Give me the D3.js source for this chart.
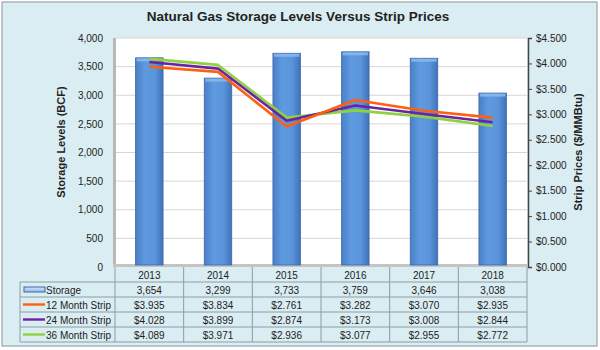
<!DOCTYPE html>
<html>
<head>
<meta charset="utf-8">
<script src="https://d3js.org/d3.v7.min.js"></script>
<style>
  body { margin: 0; background: #fff; }
  text { font-family: "Liberation Sans", Arial, sans-serif; fill: #222; }
</style>
</head>
<body>
<div id="chart"></div>
<script>
// data
var years = ["2013", "2014", "2015", "2016", "2017", "2018"];
var storage = [3654, 3299, 3733, 3759, 3646, 3038];
var strip12 = [3.935, 3.834, 2.761, 3.282, 3.070, 2.935];
var strip24 = [4.028, 3.899, 2.874, 3.173, 3.008, 2.844];
var strip36 = [4.089, 3.971, 2.936, 3.077, 2.955, 2.772];
var seriesNames = ["Storage", "12 Month Strip", "24 Month Strip", "36 Month Strip"];
var leftTicks = [0, 500, 1000, 1500, 2000, 2500, 3000, 3500, 4000];
var rightTicks = [0, 0.5, 1, 1.5, 2, 2.5, 3, 3.5, 4, 4.5];

var W = 600, H = 350;
var plot = { left: 115, right: 527, top: 38, bottom: 267 };
var rowH = 15;

var svg = d3.select("#chart").append("svg")
    .attr("width", W).attr("height", H);

var defs = svg.append("defs");
var g1 = defs.append("linearGradient").attr("id", "barGrad")
    .attr("x1", "0").attr("x2", "1").attr("y1", "0").attr("y2", "0");
g1.append("stop").attr("offset", "0").attr("stop-color", "#4a80c8");
g1.append("stop").attr("offset", "0.35").attr("stop-color", "#5f9ae0");
g1.append("stop").attr("offset", "0.7").attr("stop-color", "#5a95dc");
g1.append("stop").attr("offset", "1").attr("stop-color", "#3f72ba");
var g2 = defs.append("linearGradient").attr("id", "legGrad")
    .attr("x1", "0").attr("x2", "0").attr("y1", "0").attr("y2", "1");
g2.append("stop").attr("offset", "0").attr("stop-color", "#d6e8f8");
g2.append("stop").attr("offset", "1").attr("stop-color", "#8ab8e6");

// background panel
svg.append("rect").attr("x", 2).attr("y", 2).attr("width", 595).attr("height", 344)
    .attr("fill", "#daedf3").attr("stroke", "#9aa6ab").attr("stroke-width", 1.2);

// plot area
svg.append("rect").attr("x", plot.left).attr("y", plot.top)
    .attr("width", plot.right - plot.left).attr("height", plot.bottom - plot.top)
    .attr("fill", "#fff");
// wall / floor shading
svg.append("rect").attr("x", plot.left - 2).attr("y", plot.top)
    .attr("width", 3).attr("height", plot.bottom - plot.top)
    .attr("fill", "#b8b8b8");
svg.append("rect").attr("x", plot.left - 2).attr("y", plot.bottom - 3)
    .attr("width", plot.right - plot.left + 2).attr("height", 3)
    .attr("fill", "#c4c4c4");

var x = d3.scaleBand().domain(years).range([plot.left, plot.right]);
var yL = d3.scaleLinear().domain([0, 4000]).range([plot.bottom, plot.top]);
var yR = d3.scaleLinear().domain([0, 4.5]).range([plot.bottom, plot.top]);

// gridlines
svg.append("g").selectAll("line").data(leftTicks.slice(1)).enter().append("line")
    .attr("x1", plot.left + 1).attr("x2", plot.right)
    .attr("y1", function (d) { return yL(d); }).attr("y2", function (d) { return yL(d); })
    .attr("stroke", "#d6d6d6").attr("stroke-width", 1);

// left axis labels
var axL = svg.append("g").attr("transform", "translate(" + (plot.left - 9) + ",0)")
    .call(d3.axisLeft(yL).tickValues(leftTicks).tickSize(0).tickFormat(d3.format(",")));
axL.select(".domain").remove();
axL.selectAll("text").attr("font-size", 10).attr("fill", "#333")
    .attr("font-family", "Liberation Sans, Arial, sans-serif");

// right axis
var axR = svg.append("g").attr("transform", "translate(" + (plot.right + 1) + ",0)")
    .call(d3.axisRight(yR).tickValues(rightTicks).tickSize(4).tickPadding(4)
        .tickFormat(function (d) { return "$" + d3.format(".3f")(d); }));
axR.select(".domain").attr("stroke", "#444").attr("stroke-width", 1.5);
axR.selectAll(".tick line").attr("stroke", "#444");
axR.selectAll("text").attr("font-size", 10).attr("fill", "#333")
    .attr("font-family", "Liberation Sans, Arial, sans-serif");

// bars
var bw = x.bandwidth() * 0.4;
var bars = svg.append("g").selectAll("g").data(storage).enter().append("g");
bars.append("rect")
    .attr("x", function (d, i) { return x(years[i]) + (x.bandwidth() - bw) / 2; })
    .attr("y", function (d) { return yL(d); })
    .attr("width", bw)
    .attr("height", function (d) { return plot.bottom - 2 - yL(d); })
    .attr("fill", "url(#barGrad)").attr("stroke", "#3a66a8").attr("stroke-width", 0.8);
bars.append("rect")
    .attr("x", function (d, i) { return x(years[i]) + (x.bandwidth() - bw) / 2 + 1; })
    .attr("y", function (d) { return yL(d) + 0.5; })
    .attr("width", bw - 2).attr("height", 3)
    .attr("fill", "#8dbbee").attr("opacity", 0.8);

// lines
var lineSeries = [
    { vals: strip12, color: "#ff6010" },
    { vals: strip24, color: "#6a24a0" },
    { vals: strip36, color: "#8fd140" }
];
var line = d3.line()
    .x(function (d, i) { return x(years[i]) + x.bandwidth() / 2; })
    .y(function (d) { return yR(d); });
// draw green first so orange ends up on top like the original
lineSeries.slice().reverse().forEach(function (s) {
    svg.append("path").datum(s.vals).attr("d", line)
        .attr("fill", "none").attr("stroke", s.color).attr("stroke-width", 2.6)
        .attr("stroke-linejoin", "round");
});

// title
svg.append("text").attr("x", 298).attr("y", 21).attr("text-anchor", "middle")
    .attr("font-size", 13.5).attr("font-weight", "bold").attr("fill", "#111")
    .text("Natural Gas Storage Levels Versus Strip Prices");

// axis titles
svg.append("text").attr("transform", "translate(65,142) rotate(-90)")
    .attr("text-anchor", "middle").attr("font-size", 11).attr("font-weight", "bold")
    .attr("fill", "#111").text("Storage Levels (BCF)");
svg.append("text").attr("transform", "translate(582,152) rotate(-90)")
    .attr("text-anchor", "middle").attr("font-size", 11).attr("font-weight", "bold")
    .attr("fill", "#111").text("Strip Prices ($/MMBtu)");

// data table
var tbl = svg.append("g");
var gridColor = "#8c9ea5";
var tableLeft = 20;
var rows = [storage.map(d3.format(",")),
    strip12.map(function (d) { return "$" + d3.format(".3f")(d); }),
    strip24.map(function (d) { return "$" + d3.format(".3f")(d); }),
    strip36.map(function (d) { return "$" + d3.format(".3f")(d); })];

// header row (years)
tbl.selectAll(".yr").data(years).enter().append("text")
    .attr("x", function (d) { return x(d) + x.bandwidth() / 2; })
    .attr("y", plot.bottom + 11.5).attr("text-anchor", "middle")
    .attr("font-size", 10).attr("fill", "#222").text(function (d) { return d; });

rows.forEach(function (r, ri) {
    var yTop = plot.bottom + rowH * (ri + 1);
    tbl.selectAll(".c" + ri).data(r).enter().append("text")
        .attr("x", function (d, i) { return x(years[i]) + x.bandwidth() / 2; })
        .attr("y", yTop + 11.5).attr("text-anchor", "middle")
        .attr("font-size", 10).attr("fill", "#222").text(function (d) { return d; });
    tbl.append("text").attr("x", ri === 0 ? 46 : 46).attr("y", yTop + 11.5)
        .attr("font-size", 10).attr("fill", "#222").text(seriesNames[ri]);
});

// legend keys
var key0 = plot.bottom + rowH;
tbl.append("rect").attr("x", 24).attr("y", key0 + 5).attr("width", 21).attr("height", 5)
    .attr("fill", "url(#legGrad)").attr("stroke", "#3a66a8").attr("stroke-width", 1);
lineSeries.forEach(function (s, i) {
    var yy = plot.bottom + rowH * (i + 2) + 7.5;
    tbl.append("line").attr("x1", 23).attr("x2", 45).attr("y1", yy).attr("y2", yy)
        .attr("stroke", s.color).attr("stroke-width", 2.4);
});

// table grid lines
var tableBottom = plot.bottom + rowH * 5;
for (var k = 1; k <= 5; k++) {
    var yy = plot.bottom + rowH * k;
    tbl.append("line").attr("x1", k === 5 || k >= 1 ? tableLeft : plot.left).attr("x2", plot.right)
        .attr("y1", yy).attr("y2", yy).attr("stroke", gridColor).attr("stroke-width", 1);
}
tbl.append("line").attr("x1", tableLeft).attr("x2", tableLeft)
    .attr("y1", plot.bottom + rowH).attr("y2", tableBottom)
    .attr("stroke", gridColor);
years.forEach(function (yv) {
    tbl.append("line").attr("x1", x(yv)).attr("x2", x(yv))
        .attr("y1", plot.bottom).attr("y2", tableBottom).attr("stroke", gridColor);
});
tbl.append("line").attr("x1", plot.right).attr("x2", plot.right)
    .attr("y1", plot.bottom).attr("y2", tableBottom).attr("stroke", gridColor);
</script>
</body>
</html>
